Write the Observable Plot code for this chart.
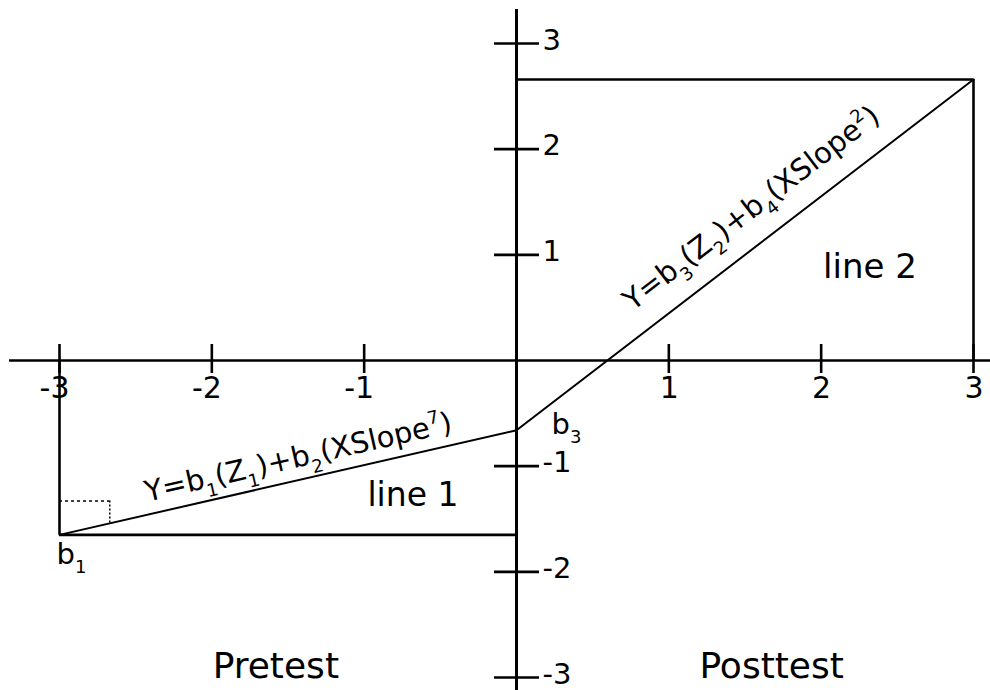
<!DOCTYPE html>
<html><head><meta charset="utf-8">
<script src="https://cdn.jsdelivr.net/npm/d3@7"></script>
<script src="https://cdn.jsdelivr.net/npm/@observablehq/plot@0.6"></script>
<style>
body{margin:0;background:#fff;}
#chart svg{display:block;}
</style></head><body><div id="chart"></div>
<script>
// ---- data ----
const xTicks = [-3, -2, -1, 1, 2, 3];
const xTickLabels = ["-3", "-2", "-1", "1", "2", "3"];
const yTicks = [-3, -2, -1, 1, 2, 3];
const yTickLabels = ["-3", "-2", "-1", "1", "2", "3"];
const line1X = [-3, 0];
const line1Y = [-1.65, -0.66];
const line2X = [0, 3];
const line2Y = [-0.66, 2.66];
const line1Formula = "Y=b₁(Z₁)+b₂(XSlope⁷)";
const line2Formula = "Y=b₃(Z₂)+b₄(XSlope²)";
const slopeMarkX = [-2.67];
const slopeMarkY = [-1.33];
const pointLabels = ["b₁", "b₃"];
const regionLabels = ["line 1", "line 2"];
const phaseLabels = ["Pretest", "Posttest"];

// ---- layout ----
const W = 990, H = 690, mL = 59, mR = 17, mT = 43, mB = 13;
const xUnit = (W - mL - mR) / 6, yUnit = (H - mT - mB) / 6;
const FONT = "DejaVu Sans";
const angle = (xs, ys) => -Math.atan2((ys[1] - ys[0]) * yUnit, (xs[1] - xs[0]) * xUnit) * 180 / Math.PI;
const onLine = (xs, ys, x) => ys[0] + (x - xs[0]) * (ys[1] - ys[0]) / (xs[1] - xs[0]);
// place a label along a line, offset perpendicular (pixels) to its upper-left side
function alongLine(xs, ys, x, offPx) {
  const a = angle(xs, ys) * Math.PI / 180;
  const dxPx = offPx * Math.sin(a), dyPx = -offPx * Math.cos(a);
  return {x: x + dxPx / xUnit, y: onLine(xs, ys, x) - dyPx / yUnit};
}
const f1 = alongLine(line1X, line1Y, -1.40, 22);
const f2 = alongLine(line2X, line2Y, 1.674, 33);
const slopeFoot = onLine(line1X, line1Y, slopeMarkX[0]);

const plot = Plot.plot({
  width: W, height: H,
  marginLeft: mL, marginRight: mR, marginTop: mT, marginBottom: mB,
  x: {domain: [-3, 3], axis: null},
  y: {domain: [-3, 3], axis: null},
  style: {fontFamily: FONT, background: "#fff", color: "#000"},
  marks: [
    // axes
    Plot.ruleY([0], {stroke: "#000", strokeWidth: 2.6, insetLeft: -50, insetRight: -17}),
    Plot.ruleX([0], {stroke: "#000", strokeWidth: 3, insetTop: -34, insetBottom: -13}),
    Plot.ruleX(xTicks, {x: d => d, y1: 0, y2: 0, insetTop: -16, insetBottom: -13, stroke: "#000", strokeWidth: 2.6}),
    Plot.ruleY(yTicks, {y: d => d, x1: 0, x2: 0, insetLeft: -22, insetRight: -23, stroke: "#000", strokeWidth: 2.6}),
    Plot.text(xTicks, {x: d => d, y: 0, text: (d, i) => xTickLabels[i], textAnchor: "end", dx: 10, dy: 28, fontSize: 30, fill: "#000"}),
    Plot.text(yTicks, {x: 0, y: d => d, text: (d, i) => yTickLabels[i], textAnchor: "start", dx: 26, dy: -3, fontSize: 29, fill: "#000"}),
    // boxes
    Plot.ruleY([line2Y[1]], {x1: line2X[0], x2: line2X[1], stroke: "#000", strokeWidth: 2.6}),
    Plot.ruleX([line2X[1]], {y1: line2Y[1], y2: 0, stroke: "#000", strokeWidth: 2.6}),
    Plot.ruleY([line1Y[0]], {x1: line1X[0], x2: line1X[1], stroke: "#000", strokeWidth: 2.6}),
    Plot.ruleX([line1X[0]], {y1: 0, y2: line1Y[0], stroke: "#000", strokeWidth: 2.6}),
    // slope marker
    Plot.ruleY(slopeMarkY, {x1: line1X[0], x2: slopeMarkX[0], stroke: "#000", strokeWidth: 1.5, strokeDasharray: "3,3"}),
    Plot.ruleX(slopeMarkX, {y1: slopeMarkY[0], y2: slopeFoot, stroke: "#000", strokeWidth: 1.5, strokeDasharray: "2,2"}),
    // lines
    Plot.line(line1X, {x: line1X, y: line1Y, stroke: "#000", strokeWidth: 2}),
    Plot.line(line2X, {x: line2X, y: line2Y, stroke: "#000", strokeWidth: 2}),
    // formulas
    Plot.text([line1Formula], {x: f1.x, y: f1.y, text: d => d, rotate: angle(line1X, line1Y), fontSize: 29, fill: "#000"}),
    Plot.text([line2Formula], {x: f2.x, y: f2.y, text: d => d, rotate: angle(line2X, line2Y), fontSize: 29, fill: "#000"}),
    // point labels
    Plot.text([pointLabels[0]], {x: line1X[0], y: line1Y[0], text: d => d, textAnchor: "start", dx: -3, dy: 20, fontSize: 29, fill: "#000"}),
    Plot.text([pointLabels[1]], {x: line2X[0], y: line2Y[0], text: d => d, textAnchor: "start", dx: 35, dy: -6, fontSize: 29, fill: "#000"}),
    // region labels
    Plot.text([regionLabels[0]], {x: -0.68, y: -1.28, text: d => d, fontSize: 33, fill: "#000"}),
    Plot.text([regionLabels[1]], {x: 2.32, y: 0.88, text: d => d, fontSize: 34, fill: "#000"}),
    // phase labels
    Plot.text([phaseLabels[0]], {x: -1.58, y: -2.9, text: d => d, fontSize: 36, fill: "#000"}),
    Plot.text([phaseLabels[1]], {x: 1.675, y: -2.9, text: d => d, fontSize: 36, fill: "#000"})
  ]
});
document.getElementById("chart").appendChild(plot);

// render unicode sub/superscript digits as smaller, shifted tspans
const SUB = "₀₁₂₃₄₅₆₇₈₉";
const SUP = {"⁰": "0", "¹": "1", "²": "2", "³": "3", "⁴": "4", "⁵": "5", "⁶": "6", "⁷": "7", "⁸": "8", "⁹": "9"};
plot.querySelectorAll("text").forEach(t => {
  const s = t.textContent;
  if (![...s].some(ch => SUB.includes(ch) || SUP[ch])) return;
  const fs = parseFloat(getComputedStyle(t).fontSize) || 28;
  t.textContent = "";
  let cur = 0;
  let buf = "";
  const ns = "http://www.w3.org/2000/svg";
  const flush = () => {
    if (!buf) return;
    const ts = document.createElementNS(ns, "tspan");
    ts.textContent = buf;
    if (cur !== 0) ts.setAttribute("dy", -cur);
    cur = 0;
    t.appendChild(ts);
    buf = "";
  };
  for (const ch of s) {
    const si = SUB.indexOf(ch);
    if (si >= 0 || SUP[ch]) {
      flush();
      const target = si >= 0 ? fs * 0.32 : -fs * 0.42;
      const ts = document.createElementNS(ns, "tspan");
      ts.textContent = si >= 0 ? String(si) : SUP[ch];
      ts.setAttribute("font-size", fs * 0.62);
      ts.setAttribute("dy", target - cur);
      cur = target;
      t.appendChild(ts);
    } else {
      buf += ch;
    }
  }
  flush();
});
</script></body></html>
